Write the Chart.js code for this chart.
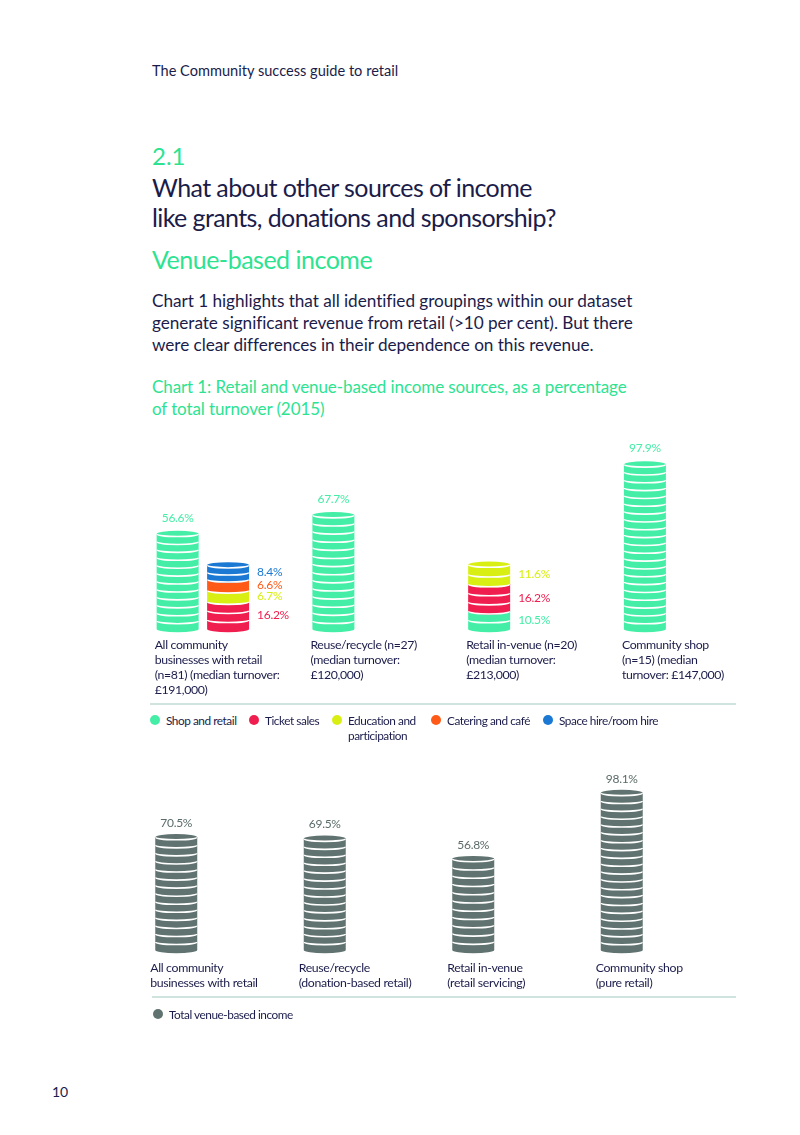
<!DOCTYPE html>
<html>
<head>
<meta charset="utf-8">
<script src="https://cdn.jsdelivr.net/npm/chart.js@4.4.1/dist/chart.umd.min.js"></script>
<style>
  body { margin: 0; background: #fff; font-family: Lato, "Open Sans", sans-serif; color: #1b1c4a; }
  .page { position: relative; width: 800px; height: 1135px; overflow: hidden; }
  .abs { position: absolute; left: 152px; white-space: nowrap; }
  .green { color: #2de391; }
  #topChart, #bottomChart { position: absolute; left: 0; }
  .rule { position: absolute; height: 2px; background: #cfe4df; }
  .legend { position: absolute; display: flex; font-size: 11.8px; letter-spacing: -0.45px; line-height: 15px; }
  .legend .item { position: absolute; display: flex; align-items: flex-start; white-space: nowrap; }
  .legend .dot { width: 10px; height: 10px; border-radius: 50%; margin: 2px 6px 0 0; flex: none; }
</style>
</head>
<body>
<div class="page">
  <div class="abs" style="top:62px;font-size:14.6px;line-height:17px;">The Community success guide to retail</div>
  <div class="abs green" style="top:142px;font-size:24px;line-height:28px;">2.1</div>
  <div class="abs" style="top:172px;font-size:25px;line-height:30px;letter-spacing:-0.6px;">What about other sources of income<br>like grants, donations and sponsorship?</div>
  <div class="abs green" style="top:244px;font-size:25px;line-height:30px;letter-spacing:-0.5px;">Venue-based income</div>
  <div class="abs" style="top:290px;font-size:17.2px;line-height:22px;letter-spacing:-0.05px;">Chart 1 highlights that all identified groupings within our dataset<br>generate significant revenue from retail (&gt;10 per cent). But there<br>were clear differences in their dependence on this revenue.</div>
  <div class="abs green" style="top:376px;font-size:17px;line-height:22px;letter-spacing:-0.1px;">Chart 1: Retail and venue-based income sources, as a percentage<br>of total turnover (2015)</div>

  <canvas id="topChart" width="800" height="275" style="top:430px;width:800px;height:275px;"></canvas>
  <div class="rule" style="top:703px;left:150px;width:586px;"></div>
  <div class="legend" id="topLegend" style="top:713px;left:0;"></div>

  <canvas id="bottomChart" width="800" height="250" style="top:760px;width:800px;height:250px;"></canvas>
  <div class="rule" style="top:996px;left:152px;width:584px;"></div>
  <div class="legend" id="bottomLegend" style="top:1007px;left:0;"></div>

  <div style="position:absolute;left:52px;top:1083px;font-size:14px;line-height:18px;">10</div>
</div>
<script>
// chart 1: income sources as % of turnover
const topCategories = [
  ["All community", "businesses with retail", "(n=81) (median turnover:", "£191,000)"],
  ["Reuse/recycle (n=27)", "(median turnover:", "£120,000)"],
  ["Retail in-venue (n=20)", "(median turnover:", "£213,000)"],
  ["Community shop", "(n=15) (median", "turnover: £147,000)"]
];
const shopRetail = [56.6, 67.7, 10.5, 97.9];
const ticketSales = [16.2, null, 16.2, null];
const educationParticipation = [6.7, null, 11.6, null];
const cateringCafe = [6.6, null, null, null];
const spaceHire = [8.4, null, null, null];
// venue sources get their own column only for the first group
const venueOwnColumn = [true, false, false, false];

// chart 2: total venue-based income
const bottomCategories = [
  ["All community", "businesses with retail"],
  ["Reuse/recycle", "(donation-based retail)"],
  ["Retail in-venue", "(retail servicing)"],
  ["Community shop", "(pure retail)"]
];
const totalVenueIncome = [70.5, 69.5, 56.8, 98.1];

const colors = {
  shop: "#44eea6",
  ticket: "#f01e4e",
  education: "#d9ef14",
  catering: "#ff5a17",
  space: "#1b79d3",
  total: "#607370",
  text: "#1b1c4a"
};

const venueSeries = [
  { label: "Ticket sales", data: ticketSales, color: colors.ticket },
  { label: "Education and participation", data: educationParticipation, color: colors.education },
  { label: "Catering and café", data: cateringCafe, color: colors.catering },
  { label: "Space hire/room hire", data: spaceHire, color: colors.space }
];

const topDatasets = [{ label: "Shop and retail", data: shopRetail, stack: "a", backgroundColor: colors.shop }];
venueSeries.forEach((s) => {
  topDatasets.push({ label: s.label, stack: "b", backgroundColor: s.color,
    data: s.data.map((v, i) => (venueOwnColumn[i] ? v : null)) });
});
venueSeries.forEach((s) => {
  topDatasets.push({ label: s.label, stack: "a", backgroundColor: s.color,
    data: s.data.map((v, i) => (venueOwnColumn[i] ? null : v)) });
});

const RY = 3.2;

function bars(chart) {
  const out = [];
  chart.data.datasets.forEach((ds, di) => {
    const meta = chart.getDatasetMeta(di);
    meta.data.forEach((bar, i) => {
      if (ds.data[i] == null) return;
      const p = bar.getProps(["x", "y", "base", "width"], true);
      out.push({ ...p, index: i, value: ds.data[i], color: ds.backgroundColor, stack: ds.stack || "a" });
    });
  });
  return out;
}

function coinPlugin(coinH) {
  return {
    id: "coins",
    beforeDatasetsDraw(chart) {
      const ctx = chart.ctx;
      const list = bars(chart);
      ctx.save();
      list.forEach((b) => {
        const rx = b.width / 2;
        ctx.fillStyle = b.color;
        ctx.beginPath();
        ctx.ellipse(b.x, b.base, rx, RY, 0, 0, Math.PI);
        ctx.lineTo(b.x - rx, b.y);
        ctx.ellipse(b.x, b.y, rx, RY, 0, Math.PI, Math.PI * 2);
        ctx.closePath();
        ctx.fill();
      });
      ctx.strokeStyle = "#ffffff";
      ctx.lineWidth = 1.6;
      list.forEach((b) => {
        const rx = b.width / 2 - 0.5;
        const h = b.base - b.y;
        const n = Math.max(1, Math.round(h / coinH));
        const step = h / n;
        for (let k = 0; k < n; k++) {
          ctx.beginPath();
          ctx.ellipse(b.x, b.y + k * step, rx, RY - 0.6, 0, 0, Math.PI);
          ctx.stroke();
        }
      });
      ctx.restore();
      return false;
    }
  };
}

function labelPlugin(categories, opts) {
  return {
    id: "labels",
    afterDraw(chart) {
      const ctx = chart.ctx;
      const list = bars(chart);
      const zero = chart.scales.y.getPixelForValue(0);
      ctx.save();
      ctx.font = "12px Lato";
      ctx.letterSpacing = "-0.3px";
      ctx.textBaseline = "middle";
      // value labels
      list.forEach((b) => {
        const siblings = list.filter((o) => o.index === b.index && o.stack === b.stack);
        const txt = b.value.toFixed(1) + "%";
        ctx.fillStyle = opts.valueColor || b.color;
        if (siblings.length > 1) {
          ctx.textAlign = "left";
          ctx.fillText(txt, b.x + b.width / 2 + 8, (b.y + b.base) / 2);
        } else {
          ctx.textAlign = "center";
          ctx.fillText(txt, b.x, b.y - RY - opts.valueGap);
        }
      });
      // category labels, left aligned to the first bar of each group
      ctx.fillStyle = colors.text;
      ctx.textAlign = "left";
      ctx.font = "12.3px Lato";
      ctx.letterSpacing = "-0.35px";
      categories.forEach((lines, i) => {
        const left = Math.min(...list.filter((b) => b.index === i).map((b) => b.x - b.width / 2));
        lines.forEach((line, k) => {
          ctx.fillText(line, left - opts.labelShift, zero + opts.labelGap + k * 15);
        });
      });
      ctx.restore();
    }
  };
}

new Chart(document.getElementById("topChart"), {
  type: "bar",
  data: { labels: topCategories.map((l) => l.join(" ")), datasets: topDatasets },
  options: {
    responsive: false,
    animation: false,
    events: [],
    layout: { padding: { left: 125, right: 52, top: 31, bottom: 76 } },
    datasets: { bar: { categoryPercentage: 0.648, barPercentage: 0.832 } },
    plugins: { legend: { display: false }, tooltip: { enabled: false } },
    scales: {
      x: { display: false, stacked: true },
      y: { display: false, stacked: true, min: 0, max: 100 }
    }
  },
  plugins: [coinPlugin(8), labelPlugin(topCategories, { valueGap: 13, labelGap: 16, labelShift: 2 })]
});

new Chart(document.getElementById("bottomChart"), {
  type: "bar",
  data: {
    labels: bottomCategories.map((l) => l.join(" ")),
    datasets: [{ label: "Total venue-based income", data: totalVenueIncome, backgroundColor: colors.total }]
  },
  options: {
    responsive: false,
    animation: false,
    events: [],
    layout: { padding: { left: 102, right: 104, top: 30, bottom: 60 } },
    datasets: { bar: { barThickness: 42 } },
    plugins: { legend: { display: false }, tooltip: { enabled: false } },
    scales: {
      x: { display: false },
      y: { display: false, min: 0, max: 100 }
    }
  },
  plugins: [coinPlugin(8), labelPlugin(bottomCategories, { valueGap: 11, labelGap: 18, labelShift: 5, valueColor: "#5a6c69" })]
});

// legends
const topLegendItems = [
  ["Shop and retail", colors.shop, 150],
  ["Ticket sales", colors.ticket, 249],
  ["Education and<br>participation", colors.education, 332],
  ["Catering and café", colors.catering, 431],
  ["Space hire/room hire", colors.space, 543]
];
document.getElementById("topLegend").innerHTML = topLegendItems
  .map(([label, color, x]) => `<div class="item" style="left:${x}px"><span class="dot" style="background:${color}"></span><span>${label}</span></div>`)
  .join("");
document.getElementById("bottomLegend").innerHTML =
  `<div class="item" style="left:153px"><span class="dot" style="background:${colors.total}"></span><span>Total venue-based income</span></div>`;
</script>
</body>
</html>
